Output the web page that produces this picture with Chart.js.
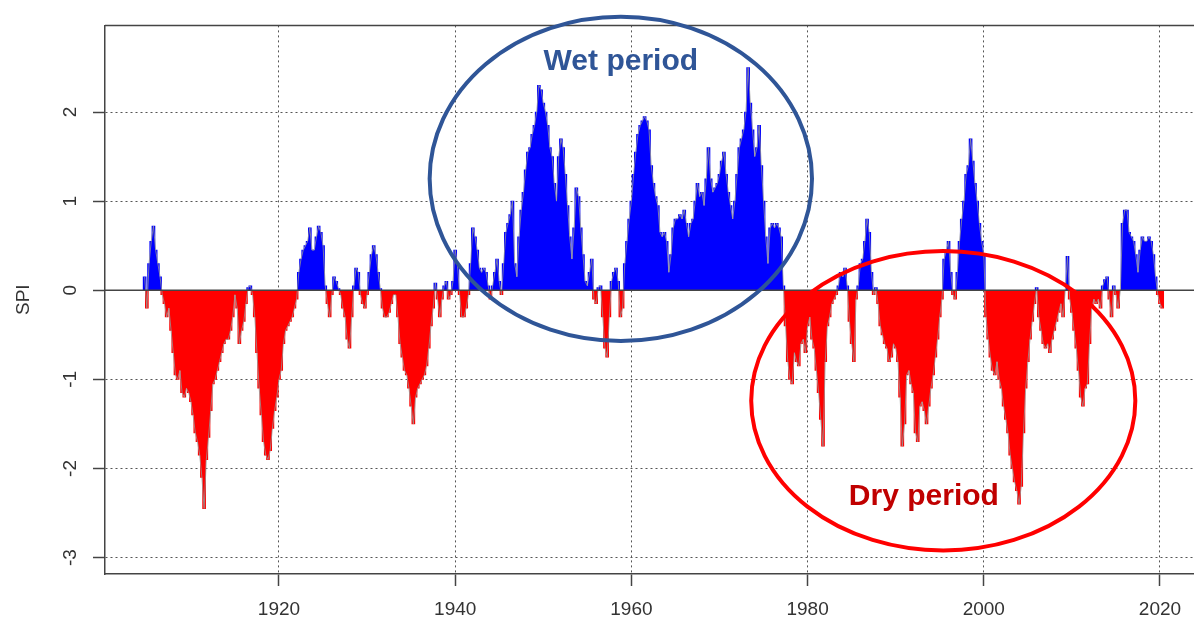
<!DOCTYPE html>
<html>
<head>
<meta charset="utf-8">
<title>SPI</title>
<script src="https://cdn.jsdelivr.net/npm/chart.js@4.4.0/dist/chart.umd.min.js"></script>
<style>
    html, body { margin: 0; padding: 0; background: #ffffff; overflow: hidden; }
    #wrap { position: relative; width: 1194px; height: 617px; }
</style>
</head>
<body>
<div id="wrap"><canvas id="spi-chart"></canvas></div>
<script>
// Quarterly SPI values, first value at startYear, one every stepYears
const startYear = 1904.75;
const stepYears = 0.25;
const spiValues = [
    0.15,
    -0.2, 0.3, 0.55, 0.72,        // 1905
    0.45, 0.3, 0.15, -0.05,
    -0.15, -0.3, -0.2, -0.45,
    -0.7, -0.95, -1.0, -0.9,
    -1.15, -1.2, -1.1, -1.15,
    -1.25, -1.4, -1.6, -1.7,      // 1910
    -1.85, -2.1, -2.45, -1.9,
    -1.65, -1.35, -1.05, -1.0,
    -0.9, -0.8, -0.7, -0.6,
    -0.55, -0.55, -0.45, -0.3,
    -0.05, -0.2, -0.6, -0.45,     // 1915
    -0.35, -0.15, 0.03, 0.05,
    -0.05, -0.3, -0.7, -1.1,
    -1.4, -1.7, -1.85, -1.9,
    -1.8, -1.55, -1.35, -1.2,
    -1.0, -0.9, -0.6, -0.45,      // 1920
    -0.4, -0.35, -0.3, -0.2,
    -0.1, 0.2, 0.35, 0.45,
    0.5, 0.55, 0.7, 0.45,
    0.45, 0.6, 0.72, 0.65,
    0.5, 0.05, -0.15, -0.3,       // 1925
    -0.05, 0.15, 0.1, 0.02,
    -0.05, -0.2, -0.3, -0.55,
    -0.65, -0.3, 0.05, 0.25,
    0.2, -0.05, -0.15, -0.2,
    -0.05, 0.2, 0.4, 0.5,         // 1930
    0.4, 0.2, 0.02, -0.2,
    -0.3, -0.3, -0.25, -0.15,
    -0.05, -0.05, -0.3, -0.6,
    -0.75, -0.9, -0.95, -1.1,
    -1.3, -1.5, -1.2, -1.1,       // 1935
    -1.05, -1.0, -0.95, -0.85,
    -0.65, -0.4, -0.2, 0.08,
    -0.1, -0.3, -0.1, 0.05,
    0.1, -0.1, -0.05, 0.1,
    0.45, 0.3, -0.05, -0.3,       // 1940
    -0.3, -0.2, -0.05, 0.3,
    0.7, 0.6, 0.45, 0.25,
    0.2, 0.25, 0.2, 0.05,
    -0.1, 0.05, 0.2, 0.35,
    0.1, -0.05, 0.3, 0.65,        // 1945
    0.75, 0.85, 1.0, 0.3,
    0.15, 0.6, 0.9, 1.1,
    1.35, 1.55, 1.6, 1.75,
    1.85, 2.0, 2.3, 2.25,
    2.1, 2.0, 1.85, 1.6,          // 1950
    1.5, 1.2, 1.0, 1.5,
    1.7, 1.6, 1.3, 0.95,
    0.6, 0.35, 0.7, 1.15,
    1.05, 0.7, 0.4, 0.1,
    0.05, 0.2, 0.35, -0.1,        // 1955
    -0.15, 0.03, 0.05, -0.3,
    -0.65, -0.75, -0.3, 0.1,
    0.2, 0.25, 0.1, -0.3,
    -0.2, 0.3, 0.55, 0.8,
    1.0, 1.3, 1.55, 1.75,         // 1960
    1.85, 1.9, 1.95, 1.9,
    1.8, 1.4, 1.2, 1.05,
    0.95, 0.65, 0.6, 0.65,
    0.55, 0.2, 0.4, 0.7,
    0.8, 0.8, 0.85, 0.8,          // 1965
    0.9, 0.75, 0.6, 0.75,
    0.8, 1.0, 1.2, 1.05,
    1.1, 0.95, 1.25, 1.6,
    1.25, 1.1, 1.15, 1.2,
    1.3, 1.45, 1.55, 1.3,         // 1970
    1.1, 0.95, 0.8, 1.0,
    1.3, 1.6, 1.7, 1.8,
    2.0, 2.5, 2.1, 1.8,
    1.5, 1.6, 1.85, 1.4,
    1.0, 0.6, 0.3, 0.7,           // 1975
    0.75, 0.7, 0.75, 0.7,
    0.6, 0.05, -0.4, -0.8,
    -1.0, -1.05, -0.7, -0.8,
    -0.85, -0.6, -0.55, -0.7,
    -0.4, -0.3, -0.55, -0.65,     // 1980
    -0.9, -1.15, -1.45, -1.75,
    -0.8, -0.4, -0.3, -0.15,
    -0.1, -0.05, 0.05, 0.2,
    0.15, 0.25, 0.05, -0.35,
    -0.6, -0.8, -0.1, 0.05,       // 1985
    0.3, 0.35, 0.55, 0.8,
    0.65, 0.2, -0.05, 0.03,
    -0.15, -0.4, -0.5, -0.6,
    -0.65, -0.8, -0.75, -0.6,
    -0.65, -0.8, -1.2, -1.75,     // 1990
    -1.5, -0.95, -0.9, -1.05,
    -1.15, -1.6, -1.7, -1.3,
    -1.25, -1.35, -1.5, -1.3,
    -1.1, -0.95, -0.75, -0.55,
    -0.3, -0.1, 0.35, 0.45,       // 1995
    0.55, 0.2, -0.05, -0.1,
    0.2, 0.55, 0.8, 1.0,
    1.3, 1.4, 1.7, 1.45,
    1.2, 1.0, 0.75, 0.55,
    0.4, -0.3, -0.55, -0.75,      // 2000
    -0.9, -0.95, -0.8, -1.0,
    -1.1, -1.3, -1.45, -1.6,
    -1.85, -2.0, -2.15, -2.25,
    -2.4, -2.2, -1.6, -1.1,
    -0.8, -0.55, -0.35, -0.15,    // 2005
    0.03, -0.3, -0.45, -0.6,
    -0.65, -0.6, -0.7, -0.55,
    -0.45, -0.35, -0.25, -0.15,
    -0.3, 0.0, 0.38, -0.1,
    -0.25, -0.45, -0.65, -0.9,    // 2010
    -1.2, -1.3, -1.1, -1.05,
    -0.6, -0.2, -0.1, -0.15,
    -0.1, -0.2, 0.05, 0.12,
    0.15, -0.1, -0.3, 0.05,
    -0.05, -0.2, 0.0, 0.75,       // 2015
    0.9, 0.9, 0.65, 0.6,
    0.55, 0.4, 0.2, 0.45,
    0.6, 0.55, 0.55, 0.6,
    0.55, 0.4, 0.15, -0.05,
    -0.15, -0.2                   // 2020
];
const xTickYears = [1920, 1940, 1960, 1980, 2000, 2020];
const yTickValues = [-3, -2, -1, 0, 1, 2];

// Ellipses marking the two periods, given in axis units
const periods = [
    { label: 'Wet period', year: 1958.8, spi: 1.25, halfYears: 21.7, halfSpi: 1.82,
      labelYear: 1958.8, labelSpi: 2.56, ringColor: '#2F5597', textColor: '#2F5597' },
    { label: 'Dry period', year: 1995.4, spi: -1.24, halfYears: 21.8, halfSpi: 1.68,
      labelYear: 1993.2, labelSpi: -2.32, ringColor: '#FF0000', textColor: '#C00000' }
];

const FONT = "'Liberation Sans', Arial, sans-serif";
const AXIS_GREY = '#444444';

document.addEventListener('DOMContentLoaded', function() {
    drawSpiChart();
});

/**
 * Zero line, top of the box and the period ellipses
 */
const periodsPlugin = {
    id: 'periods',
    afterDatasetsDraw(chart) {
        const ctx = chart.ctx;
        const area = chart.chartArea;
        const xs = chart.scales.x;
        const ys = chart.scales.y;

        ctx.save();
        ctx.strokeStyle = AXIS_GREY;
        ctx.lineWidth = 1.5;
        const y0 = ys.getPixelForValue(0);
        ctx.beginPath();
        ctx.moveTo(area.left, y0);
        ctx.lineTo(area.right, y0);
        ctx.moveTo(area.left, area.top);
        ctx.lineTo(area.right, area.top);
        ctx.stroke();

        periods.forEach(p => {
            const cx = xs.getPixelForValue(p.year);
            const cy = ys.getPixelForValue(p.spi);
            const rx = xs.getPixelForValue(p.year + p.halfYears) - cx;
            const ry = cy - ys.getPixelForValue(p.spi + p.halfSpi);
            ctx.beginPath();
            ctx.ellipse(cx, cy, rx, ry, 0, 0, Math.PI * 2);
            ctx.strokeStyle = p.ringColor;
            ctx.lineWidth = 4;
            ctx.stroke();

            ctx.fillStyle = p.textColor;
            ctx.font = 'bold 30px ' + FONT;
            ctx.textAlign = 'center';
            ctx.textBaseline = 'middle';
            ctx.fillText(p.label, xs.getPixelForValue(p.labelYear), ys.getPixelForValue(p.labelSpi));
        });
        ctx.restore();
    }
};

function drawSpiChart() {
    const ctx = document.getElementById('spi-chart');
    const points = spiValues.map((v, i) => ({ x: startYear + i * stepYears, y: v }));

    const gridOpts = {
        color: '#555555',
        lineWidth: 1,
        offset: false,
        drawTicks: true,
        tickLength: 12,
        tickColor: AXIS_GREY,
        tickWidth: 1.5,
        tickBorderDash: []
    };
    const borderOpts = { display: true, color: AXIS_GREY, width: 1.5, dash: [2, 3] };
    const tickFont = { family: FONT, size: 19 };

    new Chart(ctx, {
        type: 'bar',
        data: {
            datasets: [{
                type: 'line',
                data: points,
                borderColor: 'rgba(150, 150, 150, 0.8)',
                borderWidth: 1,
                pointRadius: 0,
                tension: 0,
                order: 0
            }, {
                data: points,
                backgroundColor: c => (c.parsed && c.parsed.y < 0) ? '#FF0000' : '#0000FF',
                borderWidth: 0,
                barThickness: 3,
                grouped: false,
                order: 1
            }]
        },
        options: {
            responsive: true,
            maintainAspectRatio: false,
            animation: false,
            layout: { padding: { top: 23, right: 0, bottom: 0, left: 0 } },
            plugins: {
                legend: { display: false },
                tooltip: { enabled: false }
            },
            scales: {
                x: {
                    type: 'linear',
                    offset: false,
                    min: 1900.25,
                    max: 2023.86,
                    afterBuildTicks: s => { s.ticks = xTickYears.map(v => ({ value: v })); },
                    afterFit: s => { s.height = 43; },
                    grid: gridOpts,
                    border: borderOpts,
                    ticks: {
                        color: '#333333',
                        font: tickFont,
                        padding: 12,
                        maxRotation: 0,
                        autoSkip: false,
                        callback: v => String(v)
                    }
                },
                y: {
                    min: -3.184,
                    max: 2.972,
                    afterBuildTicks: s => { s.ticks = yTickValues.map(v => ({ value: v })); },
                    afterFit: s => { s.width = 105; },
                    grid: gridOpts,
                    border: borderOpts,
                    ticks: {
                        color: '#333333',
                        font: tickFont,
                        padding: 14,
                        minRotation: 90,
                        maxRotation: 90,
                        crossAlign: 'center',
                        autoSkip: false,
                        callback: v => String(v)
                    },
                    title: {
                        display: true,
                        text: 'SPI',
                        color: '#333333',
                        font: tickFont,
                        padding: { top: 12, bottom: 0 }
                    }
                }
            }
        },
        plugins: [periodsPlugin]
    });
}
</script>
</body>
</html>
